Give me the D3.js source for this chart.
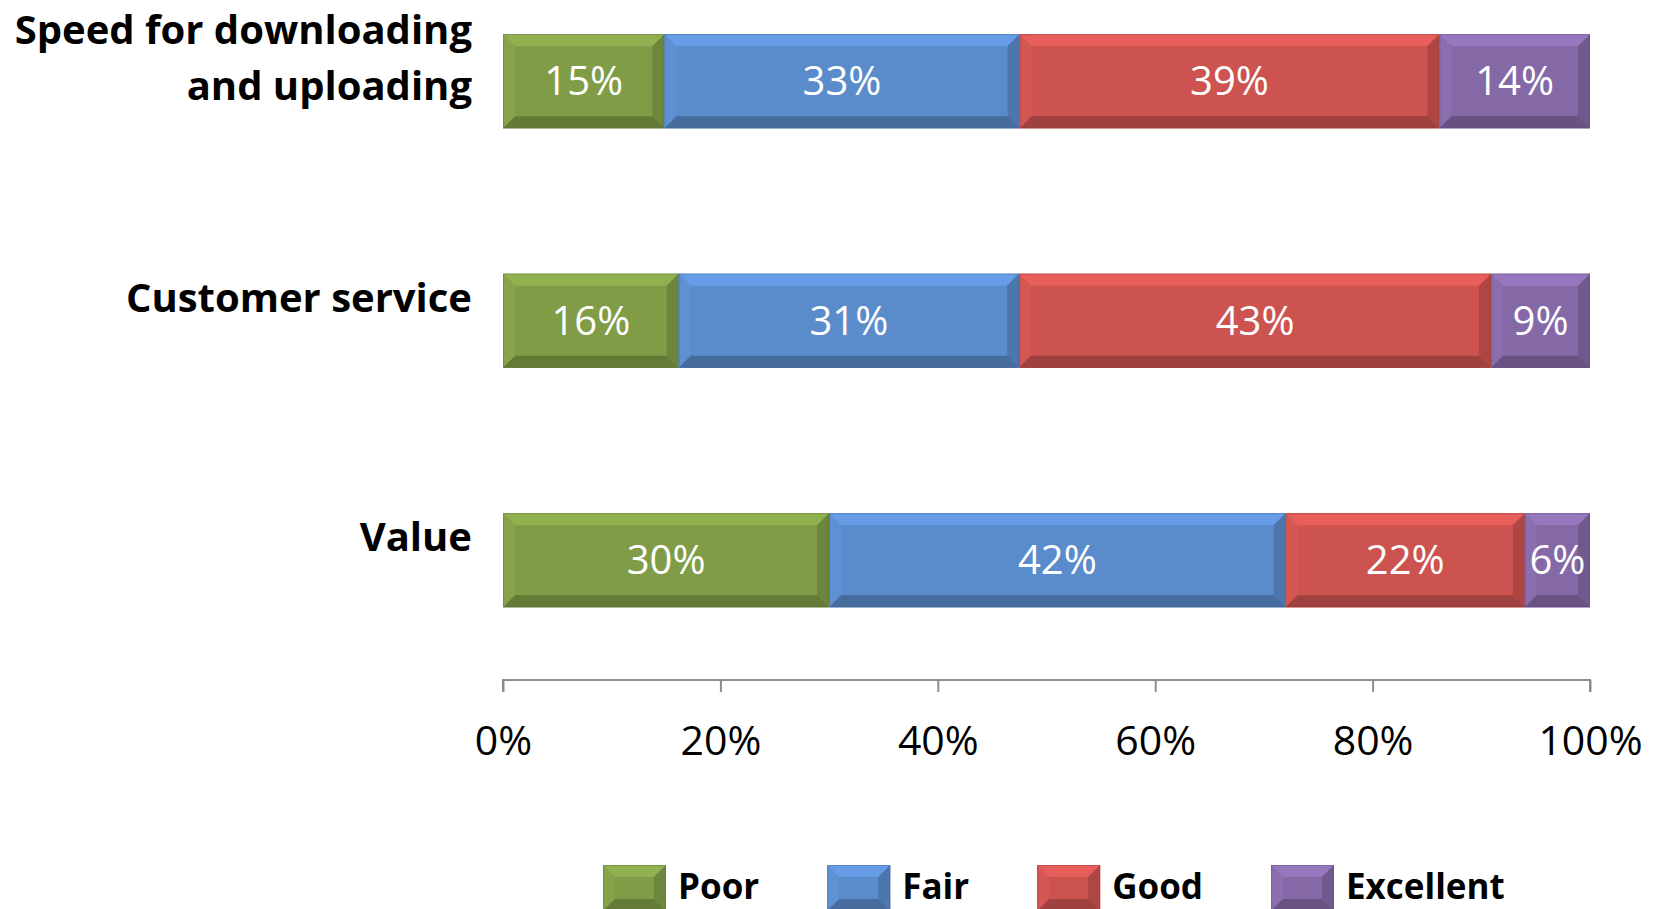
<!DOCTYPE html>
<html>
<head>
<meta charset="utf-8">
<script src="https://cdn.jsdelivr.net/npm/d3@7"></script>
<style>
  body { margin: 0; background: #fff; }
  svg { display: block; font-family: "Open Sans", "Noto Sans", sans-serif; }
</style>
</head>
<body>
<svg width="1658" height="909"></svg>
<script>
// chart data
var categories = ["Speed for downloading\nand uploading", "Customer service", "Value"];
var seriesNames = ["Poor", "Fair", "Good", "Excellent"];
var seriesColors = ["#809c47", "#5a8bcb", "#cc5350", "#8569a7"];
var poor = [15, 16, 30];
var fair = [33, 31, 42];
var good = [39, 43, 22];
var excellent = [14, 9, 6];
var xTicks = [0, 0.2, 0.4, 0.6, 0.8, 1];

var values = [poor, fair, good, excellent];

var svg = d3.select("svg"),
    bevel = 12;

var x = d3.scaleLinear().domain([0, 1]).range([503, 1590]);
var y = d3.scaleBand().domain(categories).range([-38.5, 680]).paddingInner(0.607).paddingOuter(0.3035);

// stack the series per category (100% stacked, rounded labels don't sum to 100)
var rows = categories.map(function(c, i) {
  var row = { cat: c };
  seriesNames.forEach(function(s, j) { row[s] = values[j][i]; });
  return row;
});
var stacked = d3.stack().keys(seriesNames).offset(d3.stackOffsetExpand)(rows);

function bevelBox(g, x0, y0, w, h, col) {
  var c = d3.color(col), b = Math.min(bevel, w / 2, h / 2);
  g.append("rect").attr("x", x0).attr("y", y0).attr("width", w).attr("height", h).attr("fill", col);
  var x1 = x0 + w, y1 = y0 + h;
  var faces = [
    [[x0, y0], [x1, y0], [x1 - b, y0 + b], [x0 + b, y0 + b], c.brighter(0.35)],
    [[x0, y0], [x0 + b, y0 + b], [x0 + b, y1 - b], [x0, y1], c.brighter(0.12)],
    [[x1, y0], [x1, y1], [x1 - b, y1 - b], [x1 - b, y0 + b], c.darker(0.45)],
    [[x0, y1], [x0 + b, y1 - b], [x1 - b, y1 - b], [x1, y1], c.darker(0.7)]
  ];
  faces.forEach(function(f) {
    g.append("path")
      .attr("d", "M" + f.slice(0, 4).map(function(p) { return p.join(","); }).join("L") + "Z")
      .attr("fill", f[4].formatHex());
  });
  g.append("rect").attr("x", x0 + 0.5).attr("y", y0 + 0.5).attr("width", w - 1).attr("height", h - 1)
    .attr("fill", "none").attr("stroke", c.darker(0.9).formatHex()).attr("stroke-opacity", 0.4);
}

// bars
stacked.forEach(function(layer, j) {
  layer.forEach(function(d, i) {
    var g = svg.append("g");
    var x0 = x(d[0]), w = x(d[1]) - x(d[0]), yy = y(categories[i]);
    bevelBox(g, x0, yy, w, y.bandwidth(), seriesColors[j]);
    g.append("text")
      .attr("x", x0 + w / 2)
      .attr("y", yy + y.bandwidth() / 2 + 14)
      .attr("text-anchor", "middle")
      .attr("fill", "#fff")
      .style("font-size", "40px")
      .text(values[j][i] + "%");
  });
});

// category labels
categories.forEach(function(c) {
  var lines = c.split("\n"), lh = 56;
  var cy = y(c) + y.bandwidth() / 2 - 23;
  var t = svg.append("text")
    .attr("text-anchor", "end")
    .style("font-size", "40px")
    .style("font-weight", "bold")
    .attr("fill", "#000");
  lines.forEach(function(l, k) {
    t.append("tspan")
      .attr("x", 472)
      .attr("y", cy + (k - (lines.length - 1) / 2) * lh + 14)
      .text(l);
  });
});

// x axis
var axis = svg.append("g")
  .attr("transform", "translate(0,680)")
  .call(d3.axisBottom(x).tickValues(xTicks).tickSize(12).tickFormat(d3.format(".0%")));
axis.select(".domain").attr("stroke", "#8c8c8c").attr("stroke-width", 2).attr("d", "M" + x(0) + ",12V0H" + x(1) + "V12");
axis.selectAll(".tick line").attr("stroke", "#8c8c8c").attr("stroke-width", 2);
axis.selectAll(".tick text")
  .attr("y", 61)
  .attr("dy", "0.35em")
  .attr("fill", "#000")
  .style("font-size", "41px")
  .style("font-family", "'Open Sans', sans-serif");

// legend
var lx = 603;
seriesNames.forEach(function(s, j) {
  var g = svg.append("g");
  bevelBox(g, lx, 865, 63, 46, seriesColors[j]);
  var t = g.append("text")
    .attr("x", lx + 75)
    .attr("y", 899)
    .style("font-size", "35px")
    .style("font-weight", "bold")
    .text(s);
  lx += 75 + t.node().getComputedTextLength() + 68;
});
</script>
</body>
</html>
